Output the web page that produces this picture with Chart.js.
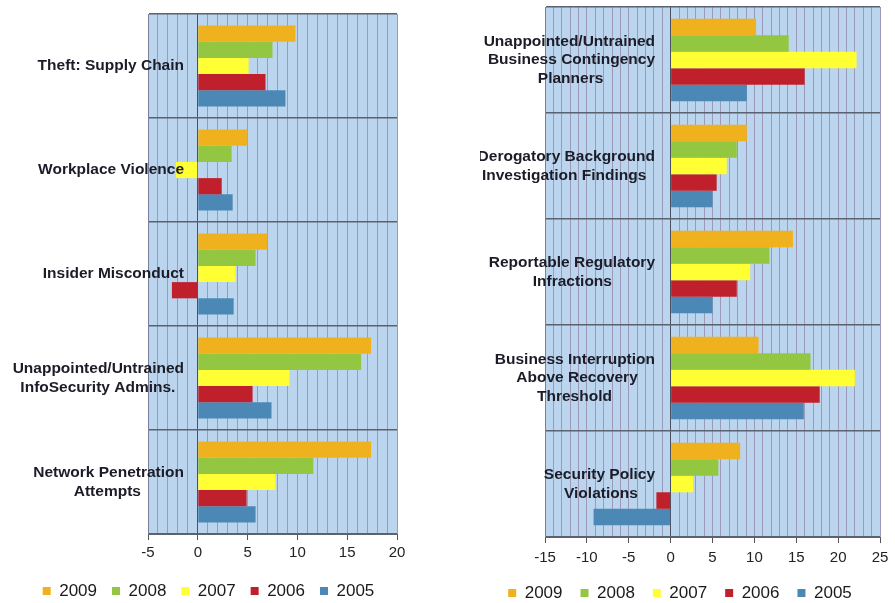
<!DOCTYPE html>
<html>
<head>
<meta charset="utf-8">
<script src="https://cdn.jsdelivr.net/npm/chart.js@4"></script>
<style>
    body { margin: 0; background: #fff; width: 895px; height: 603px; overflow: hidden; position: relative; }
    #links { position: absolute; left: 0; top: 0; width: 420px; height: 603px; }
    #rechts { position: absolute; left: 480px; top: 0; width: 415px; height: 603px; }
</style>
</head>
<body>
<div id="links"><canvas id="js--links"></canvas></div>
<div id="rechts"><canvas id="js--rechts"></canvas></div>
<script>
// data
var jaren = ['2009', '2008', '2007', '2006', '2005'];
var kleuren = ['#f0b11f', '#93c741', '#ffff33', '#c0202c', '#4b88b6'];

// linker grafiek
var risicosLinks = [
    ['Theft: Supply Chain'],
    ['Workplace Violence'],
    ['Insider Misconduct'],
    ['Unappointed/Untrained', 'InfoSecurity Admins.'],
    ['Network Penetration', 'Attempts']
];
var links2009 = [9.8, 5.0, 7.0, 17.4, 17.4];
var links2008 = [7.5, 3.4, 5.8, 16.4, 11.6];
var links2007 = [5.1, -2.2, 3.8, 9.2, 7.8];
var links2006 = [6.8, 2.4, -2.6, 5.5, 4.9];
var links2005 = [8.8, 3.5, 3.6, 7.4, 5.8];
var ticksLinks = [-5, 0, 5, 10, 15, 20];

// rechter grafiek
var risicosRechts = [
    ['Unappointed/Untrained', 'Business Contingency', 'Planners'],
    ['Derogatory Background', 'Investigation Findings'],
    ['Reportable Regulatory', 'Infractions'],
    ['Business Interruption', 'Above Recovery', 'Threshold'],
    ['Security Policy', 'Violations']
];
var rechts2009 = [10.2, 9.1, 14.6, 10.5, 8.3];
var rechts2008 = [14.1, 7.9, 11.8, 16.7, 5.7];
var rechts2007 = [22.2, 6.7, 9.5, 22.0, 2.7];
var rechts2006 = [16.0, 5.5, 7.9, 17.8, -1.7];
var rechts2005 = [9.1, 5.0, 5.0, 15.9, -9.2];
var ticksRechts = [-15, -10, -5, 0, 5, 10, 15, 20, 25];

var labelFont = 'bold 15.5px "Liberation Sans", Arial, sans-serif';
var meet = document.createElement('canvas').getContext('2d');
meet.font = labelFont;

// regels binnen een label centreren, het hele label rechts uitlijnen
function centreerRegels(regels) {
    var breed = Math.max.apply(null, regels.map(function (r) { return meet.measureText(r).width; }));
    var spatie = meet.measureText(' ').width;
    return regels.map(function (r) {
        var n = Math.round((breed - meet.measureText(r).width) / 2 / spatie);
        return r + new Array(n + 1).join(' ');
    });
}
function breedste(labels) {
    var w = 0;
    labels.forEach(function (l) {
        l.forEach(function (r) { w = Math.max(w, meet.measureText(r).width); });
    });
    return w;
}

// blauwe achtergrond achter het plotvlak
var achtergrond = {
    id: 'achtergrond',
    beforeDraw: function (chart) {
        var a = chart.chartArea;
        chart.ctx.save();
        chart.ctx.fillStyle = '#bad5ed';
        chart.ctx.fillRect(a.left, a.top, a.right - a.left, a.bottom - a.top);
        chart.ctx.restore();
    }
};

function maakGrafiek(id, labels, reeksen, ticks, m) {
    var datasets = reeksen.map(function (reeks, i) {
        return {
            label: jaren[i],
            data: reeks,
            backgroundColor: kleuren[i],
            borderWidth: 0,
            barPercentage: 1,
            categoryPercentage: 0.78
        };
    });
    return new Chart(document.getElementById(id), {
        type: 'bar',
        data: { labels: labels, datasets: datasets },
        plugins: [achtergrond],
        options: {
            indexAxis: 'y',
            responsive: true,
            maintainAspectRatio: false,
            animation: false,
            layout: { padding: { left: m.left, top: m.top, right: m.right, bottom: m.bottom } },
            plugins: {
                tooltip: { enabled: false },
                legend: {
                    position: 'bottom',
                    labels: {
                        boxWidth: 8,
                        boxHeight: 8,
                        padding: m.legendPadding,
                        color: '#1a1a1a',
                        font: { family: 'Liberation Sans, Arial, sans-serif', size: 17 }
                    }
                }
            },
            scales: {
                x: {
                    min: ticks[0],
                    max: ticks[ticks.length - 1],
                    afterFit: function (scale) { scale.height = m.xHeight; },
                    grid: {
                        color: function (c) { return c.tick && c.tick.value === 0 ? '#4a5262' : '#9b9ab8'; },
                        tickColor: function (c) { return c.tick && ticks.indexOf(c.tick.value) >= 0 ? '#555' : 'rgba(0,0,0,0)'; },
                        tickLength: 6,
                        lineWidth: 1
                    },
                    border: { color: '#5a6270' },
                    ticks: {
                        stepSize: 1,
                        autoSkip: false,
                        maxRotation: 0,
                        padding: m.xPadding,
                        color: '#222',
                        font: { family: 'Liberation Sans, Arial, sans-serif', size: 15 },
                        callback: function (v) { return ticks.indexOf(v) >= 0 ? v : ''; }
                    }
                },
                y: {
                    afterFit: function (scale) { scale.width = m.yWidth; },
                    grid: { color: '#5a6270', lineWidth: 1.5, drawTicks: false },
                    border: { color: '#7a7f99' },
                    ticks: {
                        z: 1,
                        mirror: true,   // labels mogen over het plotvlak lopen
                        crossAlign: 'far',
                        padding: m.labelRechts - m.left - m.yWidth - breedste(labels),
                        color: '#1c1c28',
                        font: { family: 'Liberation Sans, Arial, sans-serif', size: 15.5, weight: 'bold', lineHeight: 1.2 },
                        callback: function (v, i) { return centreerRegels(labels[i]); }
                    }
                }
            }
        }
    });
}

maakGrafiek('js--links', risicosLinks, [links2009, links2008, links2007, links2006, links2005], ticksLinks,
    { left: 20, top: 14, right: 23, bottom: -6.5, legendPadding: 15, xHeight: 33.5, xPadding: 4, yWidth: 128, labelRechts: 184 });

maakGrafiek('js--rechts', risicosRechts, [rechts2009, rechts2008, rechts2007, rechts2006, rechts2005], ticksRechts,
    { left: 0, top: 7, right: 15, bottom: -8.5, legendPadding: 18, xHeight: 29.5, xPadding: 6, yWidth: 65, labelRechts: 175 });
</script>
</body>
</html>
